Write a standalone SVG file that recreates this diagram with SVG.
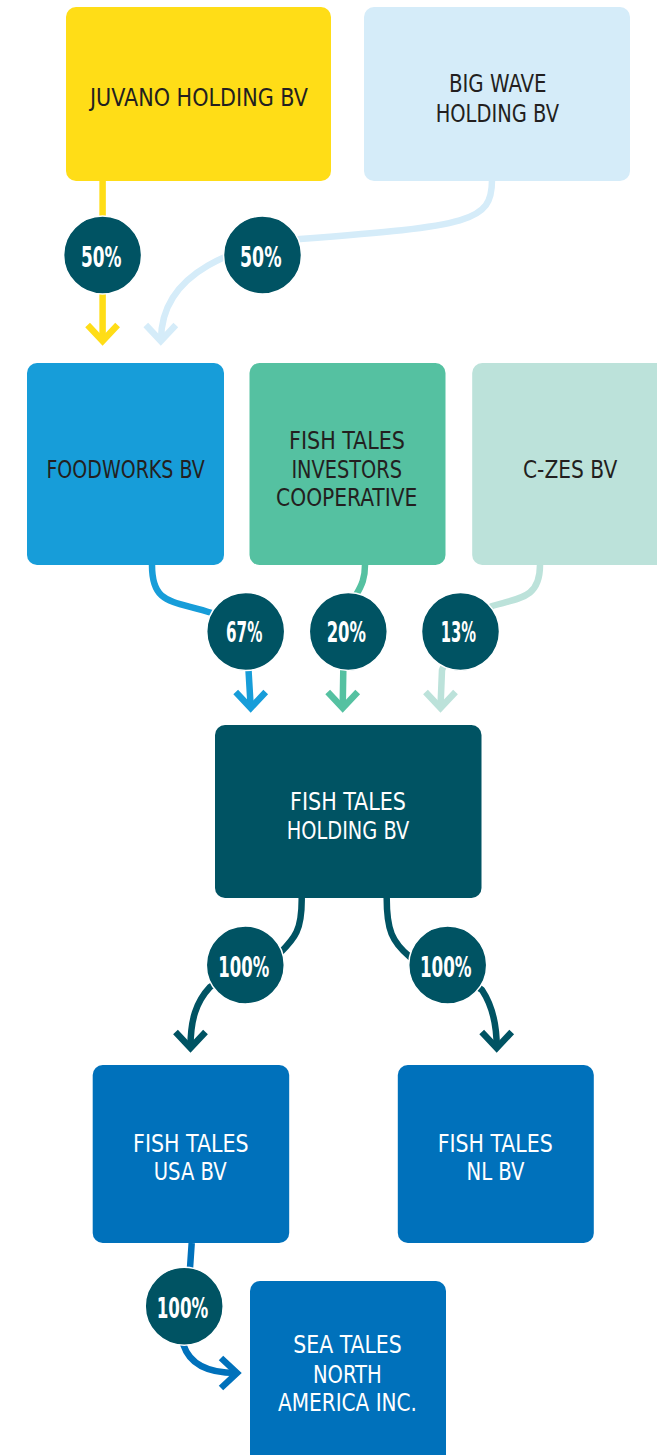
<svg xmlns="http://www.w3.org/2000/svg" xmlns:xlink="http://www.w3.org/1999/xlink" width="657" height="1455" viewBox="0 0 657 1455">
<style>
  .box { stroke: none; }
  .t { font-family: "Liberation Sans Narrow", "DejaVu Sans Condensed", "Liberation Sans", sans-serif; font-size: 25px; text-anchor: middle; }
  .dark { fill: #231F20; }
  .light { fill: #FFFFFF; }
  .conn { fill: none; stroke-width: 6.5; stroke-linecap: butt; stroke-linejoin: round; }
  .chev { fill: none; stroke-width: 6.5; stroke-linejoin: miter; stroke-miterlimit: 10; }
  .badge { fill: #005363; stroke: #FFFFFF; stroke-width: 1.5; }
  .pct { font-family: "Liberation Sans Narrow", "DejaVu Sans Condensed", "Liberation Sans", sans-serif; font-size: 28px; font-weight: bold; fill: #FFFFFF; text-anchor: middle; }
</style>
<defs>
  <path id="chev" d="M-15,-16 L0,0 L15,-16"/>
</defs>
<rect width="657" height="1455" fill="#FFFFFF"/>

<g id="connectors">
  <path class="conn" stroke="#FFDD17" d="M102.6,181 L102.6,340"/>
  <use xlink:href="#chev" class="chev" stroke="#FFDD17" transform="translate(102.6,341)"/>
  <path class="conn" stroke="#D5ECF9" d="M492,180 C492,222 470,226 300,239 C240,245 161,270 161,340"/>
  <use xlink:href="#chev" class="chev" stroke="#D5ECF9" transform="translate(160.8,341)"/>

  <path class="conn" stroke="#179DD9" d="M152,565 C152,605 172,600 212,613 L246,632 L248.5,670 L250.7,707"/>
  <use xlink:href="#chev" class="chev" stroke="#179DD9" transform="translate(250.7,708)"/>
  <path class="conn" stroke="#55C1A1" d="M365,565 C365,578 362,585 356,595 L348,632 L343.3,670 L342.7,707"/>
  <use xlink:href="#chev" class="chev" stroke="#55C1A1" transform="translate(342.7,708)"/>
  <path class="conn" stroke="#BCE2DA" d="M540,565 C540,598 520,598 492,606 L455,640 L442,670 L440.5,707"/>
  <use xlink:href="#chev" class="chev" stroke="#BCE2DA" transform="translate(440.5,708)"/>

  <path class="conn" stroke="#005363" d="M301.7,898 C302,930 295,938 280,953 L245,965 L210,987 C196,1002 190.5,1020 190.5,1047"/>
  <use xlink:href="#chev" class="chev" stroke="#005363" transform="translate(190.5,1048)"/>
  <path class="conn" stroke="#005363" d="M386.7,898 C386.7,930 392,942 410,957 L447,966 L482,990 C492,1005 496.7,1025 496.7,1047"/>
  <use xlink:href="#chev" class="chev" stroke="#005363" transform="translate(496.7,1048)"/>

  <path class="conn" stroke="#0071BB" d="M191.7,1243 L190,1268 L184,1306 L183.5,1345 C190,1365 210,1373 236,1373"/>
  <use xlink:href="#chev" class="chev" stroke="#0071BB" transform="translate(237,1373) rotate(-90)"/>
</g>

<g id="edge-labels">
  <g id="lbl-juvano-foodworks"><circle class="badge" cx="102.6" cy="255" r="39"/><text class="pct" x="101.2" y="267.3" textLength="40.5" lengthAdjust="spacingAndGlyphs">50%</text></g>
  <g id="lbl-bigwave-foodworks"><circle class="badge" cx="262.5" cy="255" r="39"/><text class="pct" x="260.8" y="267.3" textLength="41.5" lengthAdjust="spacingAndGlyphs">50%</text></g>
  <g id="lbl-foodworks-holding"><circle class="badge" cx="245.7" cy="631.5" r="39"/><text class="pct" x="244.2" y="642.3" textLength="36.3" lengthAdjust="spacingAndGlyphs">67%</text></g>
  <g id="lbl-coop-holding"><circle class="badge" cx="348.3" cy="631.5" r="39"/><text class="pct" x="346.3" y="642.3" textLength="39.3" lengthAdjust="spacingAndGlyphs">20%</text></g>
  <g id="lbl-czes-holding"><circle class="badge" cx="460.5" cy="631.5" r="39"/><text class="pct" x="458.3" y="642.3" textLength="35.3" lengthAdjust="spacingAndGlyphs">13%</text></g>
  <g id="lbl-holding-usa"><circle class="badge" cx="245.3" cy="965" r="39"/><text class="pct" x="243.8" y="977.3" textLength="51" lengthAdjust="spacingAndGlyphs">100%</text></g>
  <g id="lbl-holding-nl"><circle class="badge" cx="447.7" cy="965" r="39"/><text class="pct" x="445.8" y="977.3" textLength="51.7" lengthAdjust="spacingAndGlyphs">100%</text></g>
  <g id="lbl-usa-sea"><circle class="badge" cx="184.2" cy="1306.2" r="39"/><text class="pct" x="182.5" y="1317.7" textLength="51.6" lengthAdjust="spacingAndGlyphs">100%</text></g>
</g>

<g id="juvano">
  <rect class="box" x="66" y="7" width="265" height="174" rx="10" fill="#FFDD17"/>
  <text class="t dark" x="199" y="106" textLength="218" lengthAdjust="spacingAndGlyphs">JUVANO HOLDING BV</text>
</g>
<g id="bigwave">
  <rect class="box" x="364" y="7" width="266" height="174" rx="10" fill="#D5ECF9"/>
  <text class="t dark" x="497.8" y="92" textLength="97.7" lengthAdjust="spacingAndGlyphs">BIG WAVE</text>
  <text class="t dark" x="497.3" y="121.5" textLength="123.3" lengthAdjust="spacingAndGlyphs">HOLDING BV</text>
</g>
<g id="foodworks">
  <rect class="box" x="27" y="363" width="197" height="202" rx="10" fill="#179DD9"/>
  <text class="t dark" x="125.6" y="477.5" textLength="158.4" lengthAdjust="spacingAndGlyphs">FOODWORKS BV</text>
</g>
<g id="coop">
  <rect class="box" x="249.5" y="363" width="196" height="202" rx="10" fill="#55C1A1"/>
  <text class="t dark" x="347" y="448.5" textLength="116" lengthAdjust="spacingAndGlyphs">FISH TALES</text>
  <text class="t dark" x="346.7" y="477.5" textLength="110.6" lengthAdjust="spacingAndGlyphs">INVESTORS</text>
  <text class="t dark" x="346.7" y="506" textLength="141.3" lengthAdjust="spacingAndGlyphs">COOPERATIVE</text>
</g>
<g id="czes">
  <rect class="box" x="472.2" y="363" width="197" height="202" rx="10" fill="#BCE2DA"/>
  <text class="t dark" x="570.1" y="477.5" textLength="94.2" lengthAdjust="spacingAndGlyphs">C-ZES BV</text>
</g>
<g id="holding">
  <rect class="box" x="215" y="725" width="266.5" height="173" rx="10" fill="#005363"/>
  <text class="t light" x="348" y="810.3" textLength="116" lengthAdjust="spacingAndGlyphs">FISH TALES</text>
  <text class="t light" x="348" y="839.3" textLength="122.6" lengthAdjust="spacingAndGlyphs">HOLDING BV</text>
</g>
<g id="usa">
  <rect class="box" x="92.7" y="1065" width="196.5" height="178" rx="10" fill="#0071BB"/>
  <text class="t light" x="190.8" y="1151.5" textLength="115.5" lengthAdjust="spacingAndGlyphs">FISH TALES</text>
  <text class="t light" x="190.2" y="1180.3" textLength="73" lengthAdjust="spacingAndGlyphs">USA BV</text>
</g>
<g id="nl">
  <rect class="box" x="397.8" y="1065" width="196" height="178" rx="10" fill="#0071BB"/>
  <text class="t light" x="495.2" y="1151.5" textLength="115.1" lengthAdjust="spacingAndGlyphs">FISH TALES</text>
  <text class="t light" x="495.5" y="1180.3" textLength="58" lengthAdjust="spacingAndGlyphs">NL BV</text>
</g>
<g id="seatales">
  <rect class="box" x="250" y="1281" width="196" height="190" rx="10" fill="#0071BB"/>
  <text class="t light" x="347.5" y="1353.3" textLength="108.4" lengthAdjust="spacingAndGlyphs">SEA TALES</text>
  <text class="t light" x="347.3" y="1383.3" textLength="68.7" lengthAdjust="spacingAndGlyphs">NORTH</text>
  <text class="t light" x="347.5" y="1411" textLength="139" lengthAdjust="spacingAndGlyphs">AMERICA INC.</text>
</g>
</svg>
